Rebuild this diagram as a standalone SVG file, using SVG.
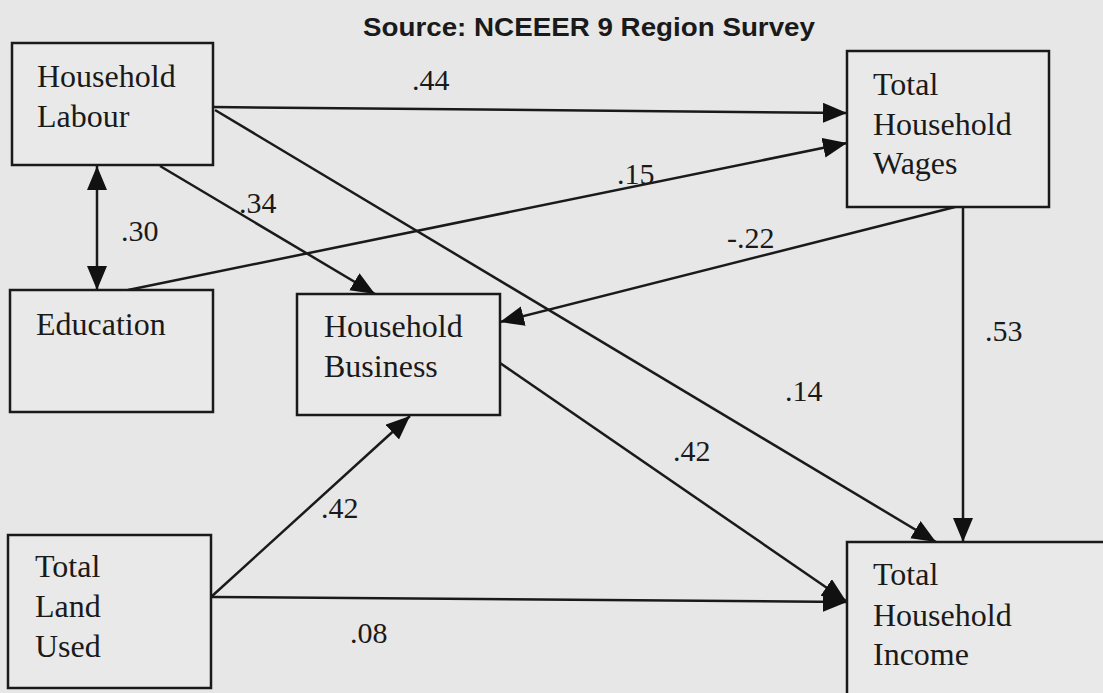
<svg xmlns="http://www.w3.org/2000/svg" width="1103" height="693" viewBox="0 0 1103 693">
<style>
.bg{fill:#e7e7e7}
.box{fill:#e9e9e9;stroke:#1a1a1a;stroke-width:2.5}
.lbl{font-family:"Liberation Serif","Times New Roman",serif;font-size:32px;fill:#1a1a1a}
.num{font-family:"Liberation Serif","Times New Roman",serif;font-size:30px;fill:#1a1a1a}
.title{font-family:"Liberation Sans",Arial,sans-serif;font-size:26px;font-weight:bold;fill:#1a1a1a}
.edge{fill:none;stroke:#1a1a1a;stroke-width:2.5}
</style>
<defs>
<marker id="ah" markerUnits="userSpaceOnUse" markerWidth="26" markerHeight="22" refX="24" refY="10" orient="auto-start-reverse" viewBox="0 0 26 22">
<path d="M0,0 L24,10 L0,20 Z" fill="#111"/>
</marker>
</defs>
<rect class="bg" x="0" y="0" width="1103" height="693"/>
<text class="title" x="363" y="36" textLength="452" lengthAdjust="spacingAndGlyphs">Source: NCEEER 9 Region Survey</text>

<g id="connectors">
<line class="edge" x1="213" y1="107" x2="847" y2="113" marker-end="url(#ah)"/>
<line class="edge" x1="215" y1="110" x2="936" y2="542" marker-end="url(#ah)"/>
<line class="edge" x1="160" y1="166" x2="375" y2="294" marker-end="url(#ah)"/>
<line class="edge" x1="97" y1="166" x2="97" y2="290" marker-start="url(#ah)" marker-end="url(#ah)"/>
<line class="edge" x1="128" y1="290" x2="847" y2="143" marker-end="url(#ah)"/>
<line class="edge" x1="955" y1="207" x2="500" y2="322" marker-end="url(#ah)"/>
<line class="edge" x1="500" y1="363" x2="846" y2="601" marker-end="url(#ah)"/>
<line class="edge" x1="211" y1="597" x2="410" y2="416" marker-end="url(#ah)"/>
<line class="edge" x1="211" y1="597" x2="847" y2="602" marker-end="url(#ah)"/>
<line class="edge" x1="963" y1="207" x2="963" y2="542" marker-end="url(#ah)"/>
<text class="num" x="412" y="90">.44</text>
<text class="num" x="785" y="401">.14</text>
<text class="num" x="239" y="213">.34</text>
<text class="num" x="121" y="241">.30</text>
<text class="num" x="617" y="184">.15</text>
<text class="num" x="727" y="248">-.22</text>
<text class="num" x="673" y="461">.42</text>
<text class="num" x="321" y="518">.42</text>
<text class="num" x="350" y="643">.08</text>
<text class="num" x="985" y="341">.53</text>
</g>

<g id="household-labour">
<rect class="box" x="12" y="43" width="201" height="122"/>
<text class="lbl" x="37" y="87">Household</text>
<text class="lbl" x="37" y="127">Labour</text>
</g>
<g id="education">
<rect class="box" x="10" y="290" width="203" height="122"/>
<text class="lbl" x="36" y="335">Education</text>
</g>
<g id="household-business">
<rect class="box" x="297" y="294" width="203" height="121"/>
<text class="lbl" x="324" y="337">Household</text>
<text class="lbl" x="324" y="377">Business</text>
</g>
<g id="total-land-used">
<rect class="box" x="8" y="535" width="203" height="153"/>
<text class="lbl" x="35" y="577">Total</text>
<text class="lbl" x="35" y="617">Land</text>
<text class="lbl" x="35" y="657">Used</text>
</g>
<g id="total-household-wages">
<rect class="box" x="847" y="51" width="202" height="156"/>
<text class="lbl" x="873" y="95">Total</text>
<text class="lbl" x="873" y="135">Household</text>
<text class="lbl" x="873" y="174">Wages</text>
</g>
<g id="total-household-income">
<rect class="box" x="847" y="542" width="270" height="170"/>
<text class="lbl" x="873" y="585">Total</text>
<text class="lbl" x="873" y="626">Household</text>
<text class="lbl" x="873" y="665">Income</text>
</g>
</svg>
